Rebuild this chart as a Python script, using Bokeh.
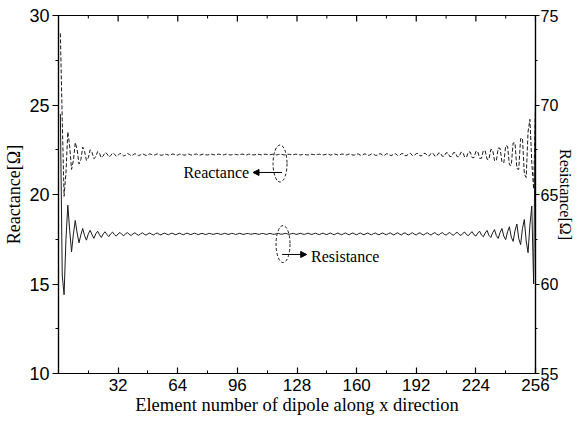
import math
from bokeh.plotting import figure
from bokeh.models import Range1d, LinearAxis, FixedTicker, Label, Arrow, NormalHead
from bokeh.embed import file_html
from bokeh.resources import INLINE

element = list(range(1, 257))

reactance = [
    29.0, 24.2, 19.9, 21.2, 23.5, 22.7, 21.4, 21.9, 22.9, 22.5, 21.7, 21.95, 22.65, 22.4, 21.9, 22.05,
    22.5, 22.35, 22.0, 22.1, 22.4, 22.3, 22.05, 22.15, 22.35, 22.28, 22.1, 22.17, 22.32, 22.26, 22.13, 22.19,
    22.3, 22.25, 22.15, 22.2, 22.29, 22.24, 22.16, 22.21, 22.28, 22.23, 22.17, 22.22, 22.28, 22.23, 22.18, 22.22,
    22.27, 22.23, 22.19, 22.22, 22.27, 22.24, 22.19, 22.21, 22.26, 22.24, 22.2, 22.21, 22.26, 22.25, 22.2, 22.2,
    22.25, 22.25, 22.21, 22.2, 22.25, 22.26, 22.21, 22.2, 22.24, 22.26, 22.22, 22.2, 22.24, 22.26, 22.22, 22.21,
    22.23, 22.26, 22.23, 22.21, 22.23, 22.26, 22.23, 22.21, 22.22, 22.26, 22.24, 22.21, 22.22, 22.25, 22.24, 22.22,
    22.21, 22.25, 22.25, 22.22, 22.21, 22.25, 22.25, 22.22, 22.21, 22.24, 22.25, 22.23, 22.21, 22.24, 22.25, 22.23,
    22.21, 22.23, 22.25, 22.24, 22.21, 22.23, 22.25, 22.24, 22.21, 22.22, 22.25, 22.24, 22.22, 22.22, 22.25, 22.25,
    22.22, 22.21, 22.24, 22.25, 22.22, 22.21, 22.24, 22.25, 22.23, 22.21, 22.24, 22.25, 22.23, 22.21, 22.23, 22.26,
    22.24, 22.2, 22.23, 22.26, 22.24, 22.2, 22.22, 22.26, 22.25, 22.2, 22.22, 22.26, 22.25, 22.2, 22.21, 22.26,
    22.26, 22.2, 22.2, 22.26, 22.26, 22.19, 22.2, 22.27, 22.26, 22.19, 22.19, 22.27, 22.27, 22.19, 22.19, 22.27,
    22.27, 22.18, 22.19, 22.28, 22.27, 22.18, 22.18, 22.28, 22.28, 22.17, 22.18, 22.28, 22.29, 22.17, 22.17, 22.29,
    22.29, 22.16, 22.17, 22.3, 22.29, 22.15, 22.16, 22.31, 22.3, 22.14, 22.15, 22.32, 22.31, 22.13, 22.14, 22.33,
    22.32, 22.12, 22.13, 22.34, 22.33, 22.11, 22.11, 22.36, 22.35, 22.09, 22.09, 22.38, 22.37, 22.06, 22.06, 22.41,
    22.4, 22.02, 22.02, 22.45, 22.44, 21.97, 21.96, 22.51, 22.5, 21.9, 21.88, 22.6, 22.58, 21.8, 21.77, 22.72,
    22.7, 21.66, 21.62, 22.88, 22.88, 21.45, 21.4, 23.12, 23.15, 21.15, 20.95, 23.5, 24.2, 21.8, 20.3, 24.9,
]

resistance = [
    69.5, 60.5, 59.4, 62.5, 64.4, 63.0, 61.8, 62.8, 63.55, 62.85, 62.3, 62.75, 63.1, 62.7, 62.45, 62.8,
    63.0, 62.75, 62.55, 62.8, 62.95, 62.75, 62.6, 62.8, 62.92, 62.76, 62.65, 62.8, 62.9, 62.76, 62.68, 62.8,
    62.88, 62.77, 62.7, 62.8, 62.87, 62.77, 62.71, 62.8, 62.86, 62.78, 62.72, 62.8, 62.86, 62.78, 62.73, 62.8,
    62.85, 62.78, 62.74, 62.81, 62.85, 62.78, 62.74, 62.81, 62.84, 62.79, 62.75, 62.81, 62.84, 62.79, 62.75, 62.81,
    62.84, 62.79, 62.75, 62.8, 62.84, 62.8, 62.76, 62.8, 62.84, 62.8, 62.76, 62.8, 62.83, 62.8, 62.76, 62.8,
    62.83, 62.8, 62.77, 62.8, 62.83, 62.81, 62.77, 62.79, 62.83, 62.81, 62.77, 62.79, 62.83, 62.81, 62.77, 62.79,
    62.83, 62.81, 62.77, 62.79, 62.82, 62.82, 62.78, 62.79, 62.82, 62.82, 62.78, 62.78, 62.82, 62.82, 62.78, 62.78,
    62.82, 62.82, 62.78, 62.78, 62.81, 62.83, 62.79, 62.78, 62.81, 62.83, 62.79, 62.78, 62.81, 62.83, 62.79, 62.77,
    62.81, 62.83, 62.79, 62.77, 62.81, 62.84, 62.79, 62.77, 62.81, 62.84, 62.79, 62.76, 62.81, 62.84, 62.79, 62.76,
    62.81, 62.85, 62.79, 62.75, 62.81, 62.85, 62.79, 62.75, 62.81, 62.85, 62.79, 62.75, 62.81, 62.85, 62.79, 62.75,
    62.81, 62.85, 62.79, 62.75, 62.81, 62.85, 62.79, 62.75, 62.81, 62.85, 62.79, 62.75, 62.81, 62.85, 62.79, 62.75,
    62.81, 62.86, 62.79, 62.74, 62.81, 62.86, 62.79, 62.74, 62.82, 62.86, 62.78, 62.74, 62.82, 62.86, 62.78, 62.74,
    62.82, 62.86, 62.78, 62.74, 62.82, 62.86, 62.78, 62.74, 62.82, 62.87, 62.78, 62.73, 62.82, 62.87, 62.78, 62.73,
    62.82, 62.88, 62.77, 62.72, 62.83, 62.89, 62.77, 62.71, 62.83, 62.9, 62.76, 62.7, 62.83, 62.92, 62.75, 62.68,
    62.84, 62.95, 62.74, 62.64, 62.85, 62.99, 62.72, 62.6, 62.86, 63.04, 62.7, 62.55, 62.88, 63.1, 62.67, 62.48,
    62.92, 63.2, 62.62, 62.38, 62.98, 63.35, 62.55, 62.2, 63.1, 63.6, 62.4, 61.75, 63.3, 64.35, 60.0, 70.8,
]

x_ticks = [32, 64, 96, 128, 160, 192, 224, 256]
x_minor = [16, 48, 80, 112, 144, 176, 208, 240]
left_ticks = [10, 15, 20, 25, 30]
left_minor = [12.5, 17.5, 22.5, 27.5]
right_ticks = [55, 60, 65, 70, 75]
right_minor = [57.5, 62.5, 67.5, 72.5]

SANS = "Liberation Sans"
SERIF = "Liberation Serif"
INK = "#1a1a1a"

p = figure(width=577, height=422, x_range=Range1d(0, 256), y_range=Range1d(10, 30),
           output_backend="svg", toolbar_location=None,
           min_border_left=58, min_border_right=41, min_border_top=15, min_border_bottom=49)
p.extra_y_ranges = {"res": Range1d(55, 75)}
p.grid.visible = False
p.outline_line_color = "black"
p.outline_line_width = 1.2
p.background_fill_color = "white"
p.border_fill_color = "white"


def style_axis(ax, ticks, minor, t_in, t_out, size="17px"):
    ax.ticker = FixedTicker(ticks=ticks, minor_ticks=minor)
    ax.axis_line_color = "black"
    ax.axis_line_width = 1.2
    ax.major_tick_line_color = "black"
    ax.minor_tick_line_color = "black"
    ax.major_tick_line_width = 1.2
    ax.minor_tick_line_width = 1
    ax.major_tick_in = t_in
    ax.major_tick_out = t_out
    ax.minor_tick_in = t_in // 2 if t_in else 0
    ax.minor_tick_out = t_out // 2 if t_out else 0
    ax.major_label_text_font = SANS
    ax.major_label_text_font_size = size
    ax.major_label_text_color = "black"
    ax.axis_label_text_font = SERIF
    ax.axis_label_text_font_style = "normal"
    ax.axis_label_text_font_size = "17px"
    ax.axis_label_text_color = "black"


xb = p.xaxis[0]
style_axis(xb, x_ticks, x_minor, 6, 0)
xb.major_label_standoff = 5
xb.axis_label = "Element number of dipole along x direction"
xb.axis_label_text_font_size = "18.5px"
xb.axis_label_standoff = 1

yl = p.yaxis[0]
style_axis(yl, left_ticks, left_minor, 0, 6, size="18px")
yl.axis_label = "Reactance[Ω]"
yl.axis_label_text_font_size = "18px"
yl.major_label_standoff = 3
yl.axis_label_standoff = 2

yr = LinearAxis(y_range_name="res")
style_axis(yr, right_ticks, right_minor, 0, 4, size="16px")
yr.major_label_standoff = 1
yr.axis_label = "Resistance[Ω]"
yr.axis_label_text_font_size = "16px"
yr.axis_label_standoff = -4
p.add_layout(yr, "right")

# inward ticks along the top edge (mirror of the bottom axis)
top_len_major = 6 / 17.9
top_len_minor = 3 / 17.9
p.segment(x0=x_ticks, y0=[30] * len(x_ticks), x1=x_ticks, y1=[30 - top_len_major] * len(x_ticks),
          line_color="black", line_width=1.2)
p.segment(x0=x_minor, y0=[30] * len(x_minor), x1=x_minor, y1=[30 - top_len_minor] * len(x_minor),
          line_color="black", line_width=1)

# curves
p.line(element, reactance, line_color=INK, line_width=1, line_dash="4 2")
p.line(element, resistance, line_color=INK, line_width=1, y_range_name="res")

# annotations
p.ellipse(x=[118.9], y=[21.73], width=[7.5], height=[2.07], fill_alpha=0,
          line_color=INK, line_width=1, line_dash="3 2")
p.ellipse(x=[120.5], y=[17.23], width=[7.5], height=[2.07], fill_alpha=0,
          line_color=INK, line_width=1, line_dash="3 2")
p.add_layout(Arrow(end=NormalHead(size=6, fill_color="black", line_color="black"),
                   x_start=120, y_start=21.23, x_end=104.4, y_end=21.23,
                   line_color="black", line_width=1))
p.add_layout(Arrow(end=NormalHead(size=6, fill_color="black", line_color="black"),
                   x_start=120, y_start=16.65, x_end=133.2, y_end=16.65,
                   line_color="black", line_width=1))
p.add_layout(Label(x=102.3, y=21.23, text="Reactance", text_align="right",
                   text_baseline="middle", text_font=SERIF, text_font_size="16px",
                   text_color="black"))
p.add_layout(Label(x=135.5, y=16.55, text="Resistance", text_align="left",
                   text_baseline="middle", text_font=SERIF, text_font_size="16px",
                   text_color="black"))

open("out.html", "w").write(file_html(p, INLINE))
